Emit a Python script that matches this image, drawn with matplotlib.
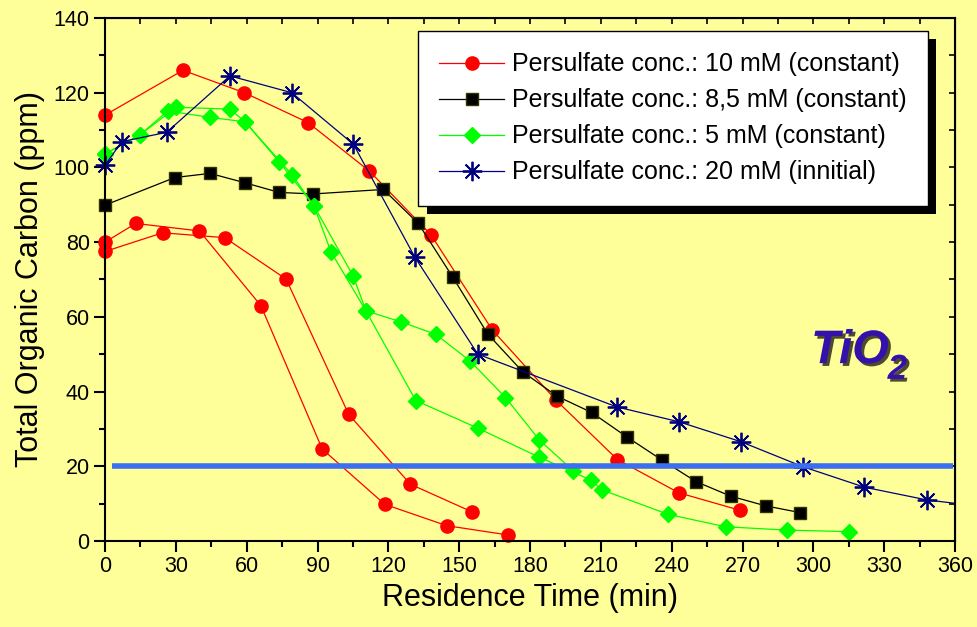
import numpy as np
import matplotlib
matplotlib.use("Agg")
import matplotlib.pyplot as plt
import matplotlib.patheffects as pe
from matplotlib.ticker import MultipleLocator

plt.rcParams['font.family'] = ['Liberation Sans', 'DejaVu Sans']

# --- data ---
# 10 mM runs (three repeats, same style)
red1_x = [0, 13, 40, 66, 92, 118.5, 144.7, 170.8]
red1_y = [80, 85, 83, 63, 24.6, 9.8, 4.1, 1.6]
red2_x = [0, 24.4, 50.7, 76.7, 103.2, 129.3, 155.4]
red2_y = [77.5, 82.5, 81.2, 70.1, 33.9, 15.2, 7.8]
red3_x = [0, 33, 59, 86, 112, 138, 164, 191, 217, 243, 269]
red3_y = [114, 126, 120, 112, 99, 82, 56.5, 37.7, 21.8, 12.9, 8.2]

# 8,5 mM
black_x = [0, 29.6, 44.5, 59.2, 73.8, 88.2, 117.9, 132.7, 147.3, 162.1,
           176.9, 191.3, 206.1, 220.9, 235.8, 250.3, 265, 279.8, 294.4]
black_y = [89.9, 97.3, 98.4, 95.9, 93.3, 92.9, 94.1, 85.0, 70.6, 55.4,
           45.3, 38.8, 34.4, 27.9, 21.7, 15.9, 12.0, 9.4, 7.6]

# 5 mM (two runs)
green1_x = [0, 14.8, 26.5, 44.5, 59.3, 73.8, 88.5, 105.2, 110.5, 125.2,
            140.1, 154.6, 169.6, 184, 198.3]
green1_y = [103.6, 108.7, 115.1, 113.4, 112.2, 101.5, 89.7, 70.8, 61.6, 58.7,
            55.3, 48.2, 38.4, 27.0, 18.8]
green2_x = [0, 14.8, 30.1, 52.9, 59.3, 79.1, 88.5, 95.7, 110.5, 131.6,
            157.9, 184, 205.8, 210.4, 238.6, 262.9, 289, 315.1]
green2_y = [103.6, 108.7, 116.1, 115.6, 112.2, 98.1, 89.7, 77.4, 61.6, 37.6,
            30.2, 22.4, 16.3, 13.7, 7.1, 3.8, 2.9, 2.5]

# 20 mM initial
blue_x = [0, 7.1, 26.1, 52.9, 79.1, 105.2, 131.3, 157.9, 216.7, 243.1,
          269.2, 295.5, 321.6, 348, 374]
blue_y = [100.6, 106.9, 109.4, 124.5, 120.0, 106.2, 75.9, 50.0, 35.9, 31.9,
          26.6, 19.9, 14.4, 11.0, 9.0]

limit_y = 20
limit_x = [3, 359]

labels = ["Persulfate conc.: 10 mM (constant)",
          "Persulfate conc.: 8,5 mM (constant)",
          "Persulfate conc.: 5 mM (constant)",
          "Persulfate conc.: 20 mM (innitial)"]

bg = '#FFFF99'
fig = plt.figure(figsize=(9.77, 6.27), dpi=100, facecolor=bg)
ax = fig.add_axes([0.1075, 0.1372, 0.870, 0.8341], facecolor=bg)

lw = 0.9
red = dict(color='#FF0000', lw=lw, marker='o', ms=9.5, mec='#FF0000', clip_on=False)
for i, (x, y) in enumerate([(red1_x, red1_y), (red2_x, red2_y), (red3_x, red3_y)]):
    ax.plot(x, y, label=labels[0] if i == 0 else None, **red)

ax.plot(black_x, black_y, color='black', lw=lw, marker='s', ms=9, mec='#333300',
        clip_on=False, label=labels[1])

green = dict(color='#00FF00', lw=lw, marker='D', ms=8.5, mec='#00FF00', clip_on=False)
ax.plot(green1_x, green1_y, label=labels[2], **green)
ax.plot(green2_x, green2_y, **green)

star = (8, 2, 0)
ax.plot(blue_x, blue_y, color='#000080', lw=lw)
inside = [i for i, v in enumerate(blue_x) if v <= 360]
ax.plot(blue_x, blue_y, ls='none', marker=star, ms=14, mew=1.3, color='#000080',
        markevery=inside, clip_on=False)
blue_handle = plt.Line2D([], [], color='#000080', lw=lw, marker=star, ms=14, mew=1.3)

ax.plot(limit_x, [limit_y, limit_y], color='#3B6EF0', lw=4, solid_capstyle='butt')

ax.set_xlim(0, 360)
ax.set_ylim(0, 140)
ax.xaxis.set_major_locator(MultipleLocator(30))
ax.xaxis.set_minor_locator(MultipleLocator(15))
ax.yaxis.set_major_locator(MultipleLocator(20))
ax.yaxis.set_minor_locator(MultipleLocator(10))
ax.tick_params(which='both', direction='out', width=1.5, labelsize=15.5, pad=3)
ax.tick_params(which='major', length=8)
ax.tick_params(which='minor', length=4.5)
for s in ax.spines.values():
    s.set_linewidth(1.5)

top = ax.secondary_xaxis('top')
top.xaxis.set_major_locator(MultipleLocator(15))
top.tick_params(direction='in', length=4.5, width=1.2, labeltop=False)
right = ax.secondary_yaxis('right')
right.yaxis.set_major_locator(MultipleLocator(10))
right.tick_params(direction='in', length=4.5, width=1.2, labelright=False)

ax.set_xlabel('Residence Time (min)', fontsize=22, labelpad=4)
ax.set_ylabel('Total Organic Carbon (ppm)', fontsize=22, labelpad=6)

handles, labs = ax.get_legend_handles_labels()
handles.append(blue_handle)
labs.append(labels[3])
leg = ax.legend(handles, labs, loc='upper right', bbox_to_anchor=(0.968, 0.975),
                borderaxespad=0, fontsize=18, numpoints=1, handlelength=2.6,
                handletextpad=0.3, labelspacing=0.48, borderpad=0.85,
                fancybox=False, framealpha=1, edgecolor='black')
leg.get_frame().set_linewidth(1.0)
leg.get_frame().set_path_effects([
    pe.SimplePatchShadow(offset=(6, -6), shadow_rgbFace='black', alpha=1),
    pe.Normal()])

shadow = [pe.withSimplePatchShadow(offset=(2, -2), shadow_rgbFace='black', alpha=0.7)]
ax.text(299, 47.6, 'TiO', fontsize=34, fontweight='bold', fontstyle='italic',
        color='#3311AA', va='baseline', ha='left', path_effects=shadow)
ax.text(331.5, 43.4, '2', fontsize=25, fontweight='bold', fontstyle='italic',
        color='#3311AA', va='baseline', ha='left', path_effects=shadow)

fig.savefig('out.png', dpi=100, facecolor=bg)
